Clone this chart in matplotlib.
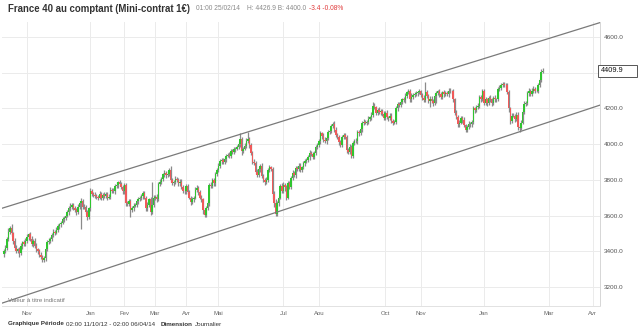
import numpy as np
import matplotlib
matplotlib.use("Agg")
import matplotlib.pyplot as plt
from matplotlib.patches import Rectangle

plt.rcParams['font.family'] = ['Liberation Sans', 'DejaVu Sans']

# cours de cloture journaliers, 11/10/2012 -> 25/02/2014 (un mois par liste)
oct12 = [3400, 3420, 3470, 3510, 3530, 3500, 3460, 3420, 3400, 3410, 3390, 3430, 3450, 3440, 3460]
nov12 = [3480, 3495, 3470, 3440, 3460, 3430, 3410, 3400, 3380, 3370, 3350, 3360, 3410, 3450, 3460,
         3470, 3490, 3510, 3505, 3520, 3540, 3550]
dec12 = [3560, 3580, 3585, 3600, 3620, 3640, 3650, 3660, 3640, 3630, 3620, 3650, 3670, 3680, 3650,
         3645, 3620, 3590, 3640]
jan13 = [3735, 3720, 3715, 3710, 3705, 3700, 3720, 3700, 3715, 3710, 3720, 3700, 3705, 3745, 3740,
         3735, 3765, 3770, 3785, 3775, 3760, 3735]
feb13 = [3770, 3670, 3665, 3680, 3630, 3640, 3655, 3660, 3680, 3690, 3700, 3710, 3725, 3700, 3640,
         3660, 3690, 3620, 3660, 3700]
mar13 = [3705, 3690, 3775, 3790, 3805, 3830, 3840, 3825, 3835, 3855, 3800, 3780, 3790, 3805, 3800,
         3780, 3790, 3760, 3740, 3735]
apr13 = [3765, 3730, 3700, 3675, 3690, 3700, 3745, 3755, 3730, 3700, 3690, 3630, 3605, 3640, 3670,
         3770, 3765, 3800, 3780, 3830, 3855]
may13 = [3880, 3905, 3910, 3900, 3915, 3935, 3940, 3935, 3960, 3955, 3970, 3975, 3985, 4000, 4030,
         3960, 3975, 3990, 4020, 4030, 3995, 3950]
jun13 = [3900, 3895, 3845, 3825, 3860, 3880, 3820, 3800, 3785, 3800, 3855, 3870, 3860, 3720, 3670,
         3610, 3670, 3700, 3765, 3740]
jul13 = [3770, 3760, 3700, 3780, 3760, 3810, 3840, 3825, 3865, 3860, 3880, 3855, 3870, 3895, 3905,
         3910, 3925, 3950, 3945, 3930, 3950, 3985, 3995]
aug13 = [4015, 4060, 4045, 4025, 4015, 4035, 4065, 4075, 4100, 4115, 4080, 4050, 4040, 4010, 3995,
         4040, 4050, 4040, 3965, 3955, 3985, 3935]
sep13 = [4005, 4020, 4015, 4065, 4060, 4085, 4120, 4125, 4120, 4125, 4140, 4150, 4165, 4215, 4205,
         4175, 4190, 4180, 4185, 4170, 4145]
oct13 = [4175, 4150, 4145, 4160, 4130, 4120, 4125, 4200, 4225, 4220, 4235, 4250, 4245, 4270, 4290,
         4295, 4250, 4265, 4275, 4280, 4285, 4290, 4295]
nov13 = [4275, 4260, 4245, 4290, 4270, 4240, 4255, 4240, 4230, 4270, 4285, 4295, 4280, 4265, 4290,
         4280, 4285, 4280, 4300, 4295, 4295]
dec13 = [4250, 4175, 4150, 4110, 4120, 4145, 4135, 4105, 4080, 4095, 4115, 4110, 4125, 4200, 4190,
         4205, 4215, 4265, 4250, 4295]
jan14 = [4230, 4250, 4230, 4260, 4250, 4230, 4260, 4250, 4250, 4310, 4315, 4330, 4335, 4330, 4330,
         4290, 4200, 4130, 4160, 4160, 4140, 4165]
feb14 = [4095, 4090, 4120, 4180, 4225, 4230, 4285, 4300, 4280, 4300, 4310, 4300, 4300, 4330, 4360,
         4406, 4409.9]
first_open = 3385

# meches hautes / basses (points au-dessus / en dessous du corps)
wick_up = [12, 15, 10, 18, 14, 20, 10, 12, 15, 10, 12, 14, 10, 15, 12,
           14, 10, 12, 15, 10, 12, 14, 10, 12, 15, 10, 12, 10, 14, 12, 10, 15, 12, 10, 14, 12, 10,
           10, 12, 15, 10, 12, 14, 20, 10, 12, 15, 10, 12, 14, 18, 10, 12, 15, 12, 10,
           20, 12, 10, 14, 12, 10, 15, 12, 10, 14, 12, 10, 15, 12, 10, 14, 12, 15, 10, 12, 14, 10,
           14, 10, 12, 15, 10, 12, 14, 10, 12, 15, 10, 12, 14, 10, 12, 15, 10, 12, 125, 14,
           12, 14, 10, 15, 12, 10, 14, 12, 15, 10, 20, 12, 10, 14, 12, 10, 15, 12, 10, 14,
           12, 10, 14, 12, 15, 10, 12, 14, 10, 12, 15, 10, 12, 14, 10, 12, 15, 10, 12, 14, 12,
           12, 14, 10, 12, 15, 10, 12, 14, 10, 12, 15, 10, 12, 14, 30, 12, 10, 14, 12, 39, 10, 12,
           12, 14, 10, 15, 12, 10, 14, 12, 10, 15, 12, 14, 10, 12, 15, 20, 14, 12, 10, 15,
           15, 12, 10, 14, 12, 10, 15, 12, 14, 10, 12, 15, 10, 12, 14, 10, 12, 15, 10, 12, 14, 10, 12,
           14, 12, 10, 15, 12, 10, 14, 12, 15, 10, 12, 14, 10, 12, 15, 10, 12, 14, 10, 12, 15, 10,
           12, 10, 14, 12, 15, 10, 12, 14, 10, 12, 15, 10, 12, 20, 14, 10, 12, 15, 10, 12, 14,
           12, 14, 10, 12, 15, 10, 12, 14, 10, 12, 15, 10, 12, 14, 10, 12, 15, 20, 10, 12, 14, 10, 12,
           10, 12, 14, 57, 12, 10, 15, 12, 10, 14, 12, 10, 15, 12, 10, 14, 12, 10, 15, 12, 10,
           12, 10, 14, 12, 15, 10, 12, 14, 10, 12, 15, 10, 12, 14, 10, 12, 15, 10, 12, 14,
           12, 14, 10, 12, 15, 10, 12, 14, 10, 12, 15, 10, 12, 14, 10, 12, 15, 10, 12, 14, 10, 12,
           12, 10, 14, 12, 15, 10, 12, 14, 10, 12, 15, 10, 12, 14, 10, 12, 17]
wick_dn = [15, 10, 12, 10, 15, 12, 20, 14, 12, 10, 23, 12, 15, 10, 12,
           12, 15, 10, 12, 14, 10, 12, 15, 10, 12, 10, 12, 15, 10, 12, 14, 10, 12, 15, 10, 12, 14,
           12, 10, 14, 12, 10, 15, 12, 14, 10, 12, 15, 10, 12, 145, 12, 10, 14, 15, 12,
           15, 12, 14, 10, 12, 15, 10, 12, 14, 10, 12, 15, 10, 12, 14, 10, 12, 10, 15, 12, 10, 14,
           12, 15, 14, 12, 40, 12, 15, 10, 12, 14, 10, 12, 15, 10, 12, 14, 12, 17, 10, 12,
           15, 12, 10, 12, 14, 10, 12, 15, 10, 12, 14, 10, 12, 15, 10, 12, 14, 10, 12, 15,
           14, 12, 10, 15, 12, 14, 10, 12, 15, 10, 12, 20, 15, 12, 10, 14, 12, 10, 15, 12, 10,
           10, 12, 14, 10, 12, 15, 10, 12, 14, 10, 12, 15, 10, 12, 14, 20, 12, 10, 14, 12, 15, 12,
           14, 12, 15, 10, 12, 14, 10, 15, 12, 10, 14, 12, 10, 25, 20, 15, 12, 14, 10, 12,
           12, 20, 15, 10, 12, 14, 10, 12, 15, 10, 12, 14, 10, 12, 15, 10, 12, 14, 10, 12, 15, 10, 12,
           10, 12, 15, 12, 10, 14, 12, 10, 15, 12, 14, 10, 12, 15, 10, 12, 14, 10, 15, 12, 10, 14,
           15, 12, 10, 14, 12, 10, 15, 12, 10, 14, 12, 10, 15, 12, 10, 14, 12, 10, 15, 12, 10,
           10, 12, 15, 10, 14, 12, 10, 15, 12, 10, 14, 12, 10, 15, 12, 10, 14, 12, 15, 10, 12, 14, 10,
           12, 15, 10, 12, 14, 10, 31, 12, 15, 10, 40, 12, 14, 10, 12, 15, 10, 12, 14, 10, 12,
           15, 12, 10, 14, 12, 10, 15, 12, 13, 12, 10, 14, 12, 10, 15, 12, 10, 14, 12, 10,
           10, 12, 15, 10, 12, 14, 10, 12, 15, 10, 12, 14, 10, 12, 15, 10, 20, 15, 12, 10, 14, 12,
           14, 22, 12, 10, 14, 12, 10, 15, 12, 10, 14, 12, 10, 15, 12, 10, 6]

# canal de tendance (deux points d'ancrage par droite, en jours de bourse)
upper_x = [0, 386]
upper_y = [3644, 4680]
lower_x = [0, 386]
lower_y = [3113, 4218]

month_lbl = ['Nov', 'Jan', 'Fev', 'Mar', 'Avr', 'Mai', 'Jul', 'Aou', 'Oct', 'Nov', 'Jan', 'Mar', 'Avr']
month_pos = [15, 56, 78, 98, 118, 139, 181, 204, 247, 270, 311, 353, 381.5]
price_ticks = [3200, 3400, 3600, 3800, 4000, 4200, 4400, 4600]

closes = np.array(oct12 + nov12 + dec12 + jan13 + feb13 + mar13 + apr13 + may13 + jun13 +
                  jul13 + aug13 + sep13 + oct13 + nov13 + dec13 + jan14 + feb14, dtype=float)
opens = np.r_[first_open, closes[:-1]]
highs = np.maximum(opens, closes) + np.array(wick_up)
lows = np.minimum(opens, closes) - np.array(wick_dn)
x = np.arange(len(closes))

W, H = 640, 332
fig = plt.figure(figsize=(6.4, 3.32), dpi=100)
ax = fig.add_axes([2 / W, 1 - 306 / H, 598 / W, 284 / H])

ax.vlines(x, lows, highs, color='#8a8a8a', lw=0.9, zorder=2)
rising = closes >= opens
cols = np.where(rising, '#2fc52f', '#f05a5a')
ax.bar(x, np.abs(closes - opens), bottom=np.minimum(opens, closes), width=0.95,
       color=cols, linewidth=0, zorder=3)

ax.axline((upper_x[0], upper_y[0]), (upper_x[1], upper_y[1]), color='#7a7a7a', lw=0.9, zorder=4)
ax.axline((lower_x[0], lower_y[0]), (lower_x[1], lower_y[1]), color='#7a7a7a', lw=0.9, zorder=4)

ax.set_xlim(-1.2, 386.1)
ax.set_ylim(3093.5, 4683.6)

ax.set_xticks(month_pos)
ax.set_xticklabels(month_lbl)
ax.set_yticks(price_ticks)
ax.set_yticklabels(['' if p == 4400 else f'{p:.1f}' for p in price_ticks])
ax.yaxis.tick_right()
ax.tick_params(axis='y', length=0, pad=2.5, labelsize=4.6, labelcolor='#555555')
ax.tick_params(axis='x', length=0, pad=3.5, labelsize=4.3, labelcolor='#666666')
ax.grid(color='#ebebeb', lw=0.7)
ax.set_axisbelow(True)
for s in ['top', 'left']:
    ax.spines[s].set_visible(False)
ax.spines['bottom'].set_color('#e2e2e2')
ax.spines['right'].set_color('#d6d6d6')
for s in ['bottom', 'right']:
    ax.spines[s].set_linewidth(0.7)

ax.text(0.01, 0.012, 'Valeur à titre indicatif', transform=ax.transAxes,
        fontsize=4.4, color='#777777', va='bottom', ha='left')

# etiquette du dernier cours sur l'axe des prix
fig.canvas.draw()
last = closes[-1]
ylast = ax.transData.transform((0, last))[1] / fig.bbox.height
fig.patches.append(Rectangle((598 / W, ylast - 6 / H), 39 / W, 12 / H, transform=fig.transFigure,
                             facecolor='white', edgecolor='#555555', lw=0.7, zorder=5))
fig.text(601 / W, ylast, f'{last:.1f}', fontsize=5.3, color='#111111', va='center', zorder=6)

# titre
ty = 1 - 9 / H
fig.text(8 / W, ty, 'France 40 au comptant (Mini-contrat 1€)', fontsize=6.9,
         fontweight='bold', color='#333333', va='center')
fig.text(196 / W, ty, '01:00 25/02/14', fontsize=4.8, color='#8a8a8a', va='center')
fig.text(247 / W, ty, f'H: {highs[-1]:.1f} B: {lows[-1]:.1f}', fontsize=4.8,
         color='#8a8a8a', va='center')
fig.text(309 / W, ty, '-3.4 -0.08%', fontsize=4.8, color='#e03a3a', va='center')

# pied de page
r = fig.canvas.get_renderer()
fx = 8 / W
fy = 1 - 324 / H
for txt, wt in [('Graphique Période', 'bold'), ('02:00 11/10/12 - 02:00 06/04/14', 'normal'),
                ('Dimension', 'bold'), ('Journalier', 'normal')]:
    t = fig.text(fx, fy, txt, fontsize=4.5, fontweight=wt, color='#333333', va='center')
    gap = 6 if txt.startswith('02') else 2
    fx = t.get_window_extent(r).x1 / fig.bbox.width + gap / W

fig.savefig('out.png', dpi=100)
